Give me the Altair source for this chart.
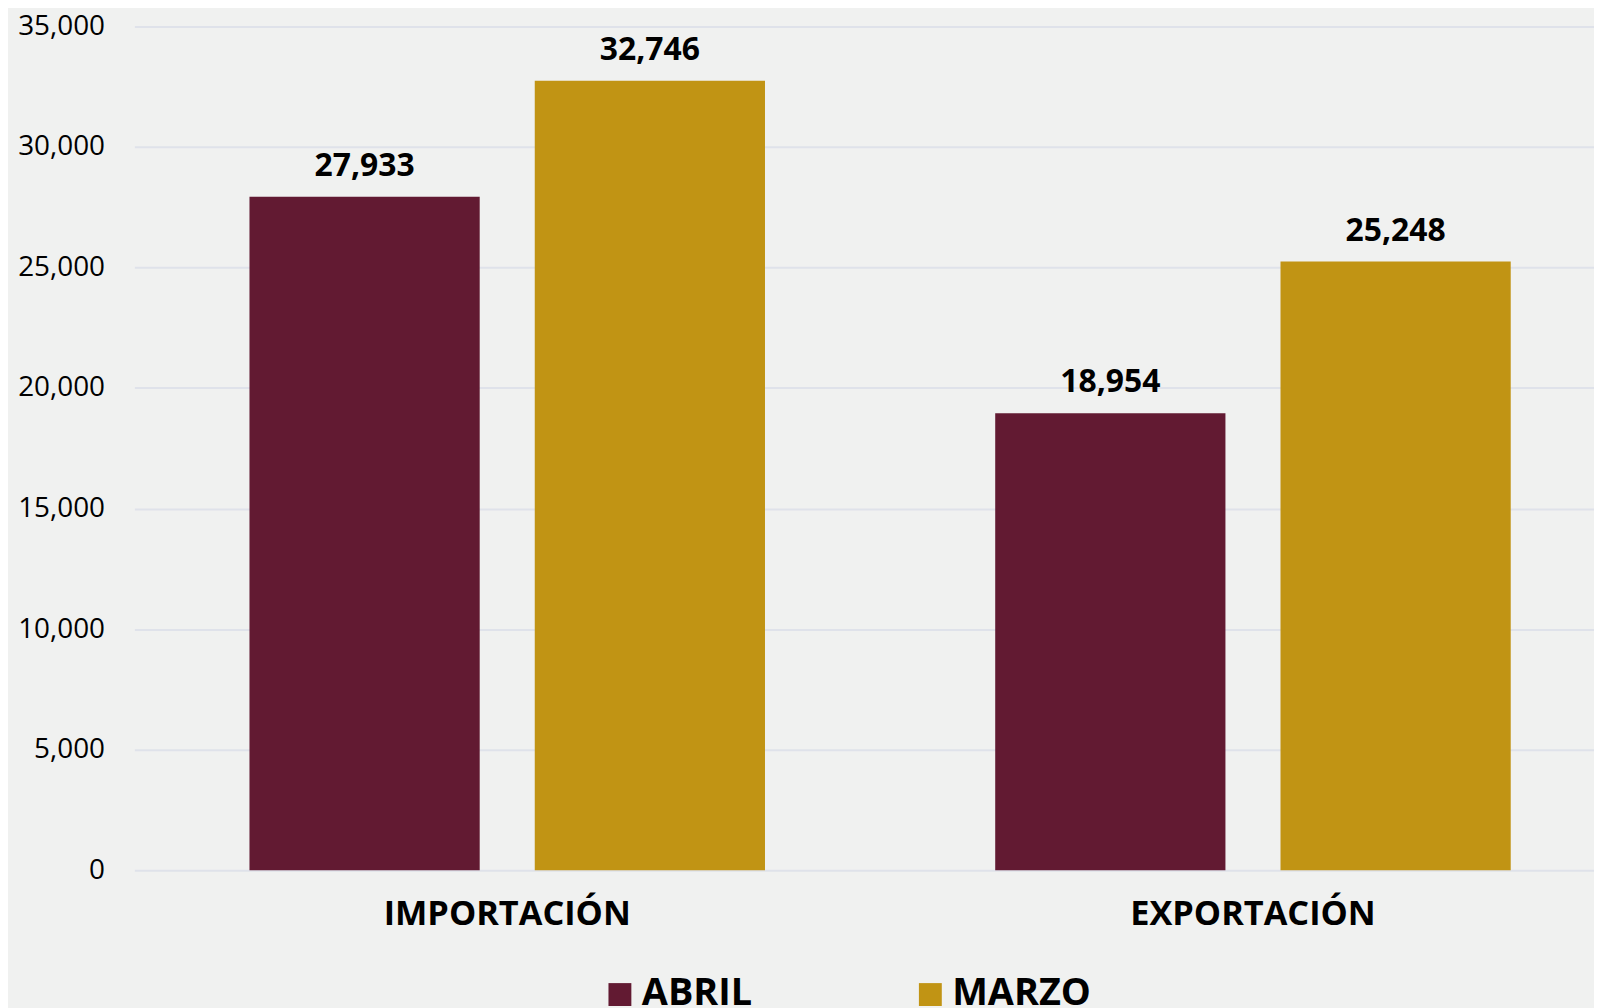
import altair as alt
import pandas as pd

categories = ["IMPORTACIÓN", "EXPORTACIÓN"]
months = ["ABRIL", "MARZO"]
abril_values = [27933, 18954]
marzo_values = [32746, 25248]
month_colors = ["#621a32", "#c19414"]
y_ticks = [0, 5000, 10000, 15000, 20000, 25000, 30000, 35000]

rows = []
for i, c in enumerate(categories):
    rows.append({"tipo": c, "mes": months[0], "valor": abril_values[i]})
    rows.append({"tipo": c, "mes": months[1], "valor": marzo_values[i]})
df = pd.DataFrame(rows)

FONT = "Open Sans"

x_enc = alt.X(
    "tipo:N",
    sort=categories,
    scale=alt.Scale(range=[0, 1499], paddingInner=0, paddingOuter=0),
    axis=alt.Axis(
        title=None, labelAngle=0, labelFont=FONT, labelFontSize=34.5,
        labelFontWeight="bold", labelColor="#000000", labelPadding=28,
        ticks=False, tickSize=0, domain=False, grid=False, labelLimit=0,
    ),
)
xoff_enc = alt.XOffset(
    "mes:N", sort=months,
    scale=alt.Scale(paddingInner=0.193, paddingOuter=0.4035),
)
y_enc = alt.Y(
    "valor:Q",
    scale=alt.Scale(domain=[0, 35000], nice=False),
    axis=alt.Axis(
        title=None, values=y_ticks, format=",d", labelFont=FONT,
        labelFontSize=28, labelColor="#000000", labelPadding=30,
        ticks=False, tickSize=0, domain=False, gridColor="#dfe2ea", gridWidth=2,
    ),
)
color_enc = alt.Color(
    "mes:N",
    sort=months,
    scale=alt.Scale(domain=months, range=month_colors),
    legend=alt.Legend(
        title=None, orient="none", legendX=469, legendY=954,
        direction="horizontal", symbolType="square", symbolSize=529,
        symbolStrokeWidth=0, symbolOpacity=1, labelFont=FONT,
        labelFontSize=38, labelFontWeight="bold", labelColor="#000000",
        labelOffset=3, columnPadding=160, padding=0, labelLimit=0,
    ),
)

bars = alt.Chart(df).mark_bar().encode(
    x=x_enc, xOffset=xoff_enc, y=y_enc, color=color_enc
)
labels = alt.Chart(df).mark_text(
    baseline="alphabetic", dy=-21, font=FONT, fontSize=32,
    fontWeight="bold", color="#000000",
).encode(
    x=x_enc, xOffset=xoff_enc, y=y_enc,
    text=alt.Text("valor:Q", format=",d"),
)

chart = (bars + labels).properties(
    width=1467,
    height=848,
    padding={"left": 127, "top": 16, "right": 0, "bottom": 136},
    autosize=alt.AutoSizeParams(type="none"),
    background="#f0f1f0",
).configure_view(stroke=None)

chart.save("out.html", embed_options={"renderer": "svg", "actions": False})
